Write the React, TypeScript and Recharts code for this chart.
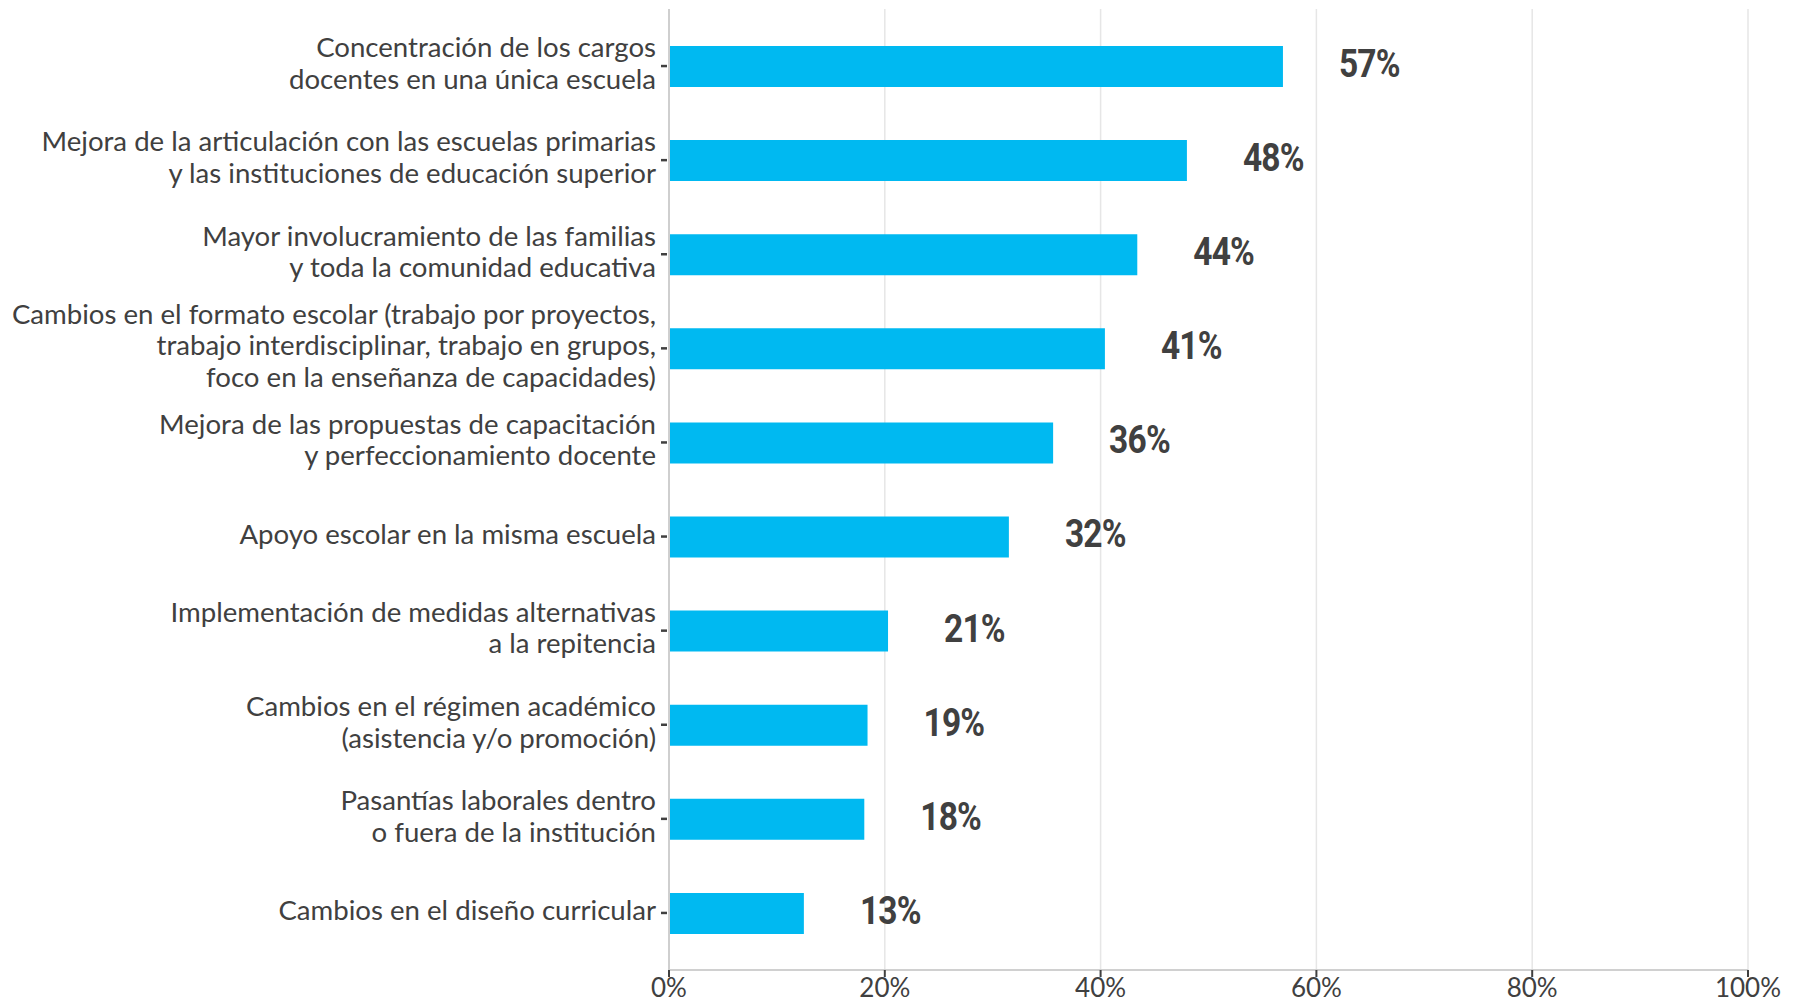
import React from "react";
import { Bar, BarChart, CartesianGrid, LabelList, XAxis, YAxis } from "recharts";

const CATEGORIES = [
  "Concentración de los cargos\ndocentes en una única escuela",
  "Mejora de la articulación con las escuelas primarias\ny las instituciones de educación superior",
  "Mayor involucramiento de las familias\ny toda la comunidad educativa",
  "Cambios en el formato escolar (trabajo por proyectos,\ntrabajo interdisciplinar, trabajo en grupos,\nfoco en la enseñanza de capacidades)",
  "Mejora de las propuestas de capacitación\ny perfeccionamiento docente",
  "Apoyo escolar en la misma escuela",
  "Implementación de medidas alternativas\na la repitencia",
  "Cambios en el régimen académico\n(asistencia y/o promoción)",
  "Pasantías laborales dentro\no fuera de la institución",
  "Cambios en el diseño curricular",
];

const VALUES = [56.9, 48.0, 43.4, 40.4, 35.6, 31.5, 20.3, 18.4, 18.1, 12.5];
const VALUE_LABELS = ["57%", "48%", "44%", "41%", "36%", "32%", "21%", "19%", "18%", "13%"];
const X_TICKS = [0, 20, 40, 60, 80, 100];

const BAR = "#00B9F1";
const TEXT = "#404040";
const LABEL_FONT = "Lato, 'Open Sans', sans-serif";
const VALUE_FONT = "Roboto, 'Open Sans', sans-serif";

const data = CATEGORIES.map((name, i) => ({
  name,
  value: VALUES[i],
  label: VALUE_LABELS[i],
}));

// multi-line category label, right aligned, with the short dark tick dash
function CategoryTick({ x, y, payload }: any) {
  const lines = String(payload.value).split("\n");
  const lh = 31.5;
  const start = -((lines.length - 1) / 2) * lh - 4;
  return (
    <g>
      <line x1={x - 8} x2={x - 2} y1={y} y2={y} stroke={TEXT} strokeWidth={2.5} />
      <text
        x={x - 13}
        y={y}
        textAnchor="end"
        fill={TEXT}
        fontSize={27.6}
        fontFamily={LABEL_FONT}
        dominantBaseline="central"
      >
        {lines.map((l, i) => (
          <tspan key={i} x={x - 13} dy={i === 0 ? start : lh}>
            {l}
          </tspan>
        ))}
      </text>
    </g>
  );
}

// bold value label, squeezed horizontally to look condensed
function ValueLabel({ x, y, width, height, value }: any) {
  const lx = x + width + 56;
  const ly = y + height / 2 - 3;
  return (
    <text
      transform={`translate(${lx},${ly}) scale(0.86,1)`}
      fill={TEXT}
      fontSize={39}
      fontWeight={700}
      fontFamily={VALUE_FONT}
      dominantBaseline="central"
      letterSpacing={-1}
    >
      {value}
    </text>
  );
}

export default function App() {
  return (
    <div style={{ position: "absolute", left: 0, top: 0, width: 1798, height: 1004, background: "#fff" }}>
      <BarChart
        width={1798}
        height={1004}
        data={data}
        layout="vertical"
        margin={{ top: 9, right: 50, left: 0, bottom: 0 }}
      >
        <CartesianGrid horizontal={false} stroke="#e6e6e6" strokeWidth={1.5} />
        <XAxis
          type="number"
          domain={[0, 100]}
          ticks={X_TICKS}
          tickFormatter={(v) => `${v}%`}
          height={34}
          axisLine={{ stroke: "#d0d0d0", strokeWidth: 2 }}
          tickLine={{ stroke: TEXT, strokeWidth: 2 }}
          tickSize={7}
          tickMargin={2}
          tick={{ fontSize: 26, fill: TEXT, fontFamily: LABEL_FONT }}
          interval={0}
        />
        <YAxis
          type="category"
          dataKey="name"
          width={669}
          padding={{ top: 10, bottom: 10 }}
          axisLine={{ stroke: "#cfcfcf", strokeWidth: 2 }}
          tickLine={false}
          tickSize={0}
          tickMargin={0}
          tick={<CategoryTick />}
          interval={0}
        />
        <Bar dataKey="value" fill={BAR} barSize={41} isAnimationActive={false}>
          <LabelList dataKey="label" content={<ValueLabel />} />
        </Bar>
      </BarChart>
    </div>
  );
}
